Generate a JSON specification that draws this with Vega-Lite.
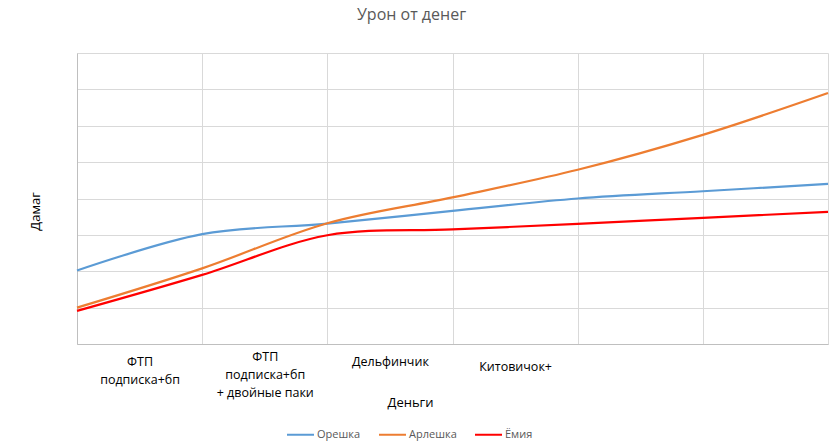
{
  "$schema": "https://vega.github.io/schema/vega-lite/v6.json",
  "autosize": "none",
  "width": 751,
  "height": 291,
  "padding": {"left": 77, "top": 53, "right": 4, "bottom": 97},
  "background": "white",
  "config": {
    "view": {"stroke": null},
    "font": "Open Sans"
  },
  "title": {
    "text": "Урон от денег",
    "fontSize": 16,
    "fontWeight": "normal",
    "color": "#595959",
    "font": "Open Sans",
    "anchor": "middle",
    "dx": -41,
    "offset": 30
  },
  "data": {
    "values": [
      {"x": 0, "series": "Орешка", "v": 2.02},
      {"x": 1, "series": "Орешка", "v": 3.02},
      {"x": 2, "series": "Орешка", "v": 3.31},
      {"x": 3, "series": "Орешка", "v": 3.66},
      {"x": 4, "series": "Орешка", "v": 4.0},
      {"x": 5, "series": "Орешка", "v": 4.2},
      {"x": 6, "series": "Орешка", "v": 4.4},
      {"x": 0, "series": "Арлешка", "v": 1.0},
      {"x": 1, "series": "Арлешка", "v": 2.08},
      {"x": 2, "series": "Арлешка", "v": 3.32},
      {"x": 3, "series": "Арлешка", "v": 4.03},
      {"x": 4, "series": "Арлешка", "v": 4.79},
      {"x": 5, "series": "Арлешка", "v": 5.75},
      {"x": 6, "series": "Арлешка", "v": 6.9},
      {"x": 0, "series": "Ёмия", "v": 0.91},
      {"x": 1, "series": "Ёмия", "v": 1.9},
      {"x": 2, "series": "Ёмия", "v": 2.99},
      {"x": 3, "series": "Ёмия", "v": 3.15},
      {"x": 4, "series": "Ёмия", "v": 3.3},
      {"x": 5, "series": "Ёмия", "v": 3.47},
      {"x": 6, "series": "Ёмия", "v": 3.63}
    ]
  },
  "mark": {"type": "line", "interpolate": "catmull-rom", "strokeWidth": 2.2},
  "encoding": {
    "x": {
      "field": "x",
      "type": "quantitative",
      "scale": {"domain": [0, 6], "nice": false, "zero": false},
      "axis": {
        "values": [0, 0.5, 1, 1.5, 2, 2.5, 3, 3.5, 4, 4.5, 5, 5.5, 6],
        "labelExpr": "datum.value == 0.5 ? ['ФТП', 'подписка+бп'] : datum.value == 1.5 ? ['ФТП', 'подписка+бп', '+ двойные паки'] : datum.value == 2.5 ? 'Дельфинчик' : datum.value == 3.5 ? 'Китовичок+' : ''",
        "labelFont": "Open Sans",
        "labelFontSize": 12.5,
        "labelColor": "#000000",
        "labelBaseline": "top",
        "labelLineHeight": 18,
        "labelPadding": {"condition": [{"test": "datum.value == 1.5", "value": 6}, {"test": "datum.value == 3.5", "value": 16}], "value": 11},
        "labelOverlap": false,
        "labelBound": false,
        "labelFlush": false,
        "ticks": false,
        "grid": true,
        "gridColor": "#D9D9D9",
        "gridWidth": 1,
        "gridOpacity": {"condition": {"test": "datum.value % 1 != 0", "value": 0}, "value": 1},
        "domainColor": "#BFBFBF",
        "domainWidth": 1,
        "title": "Деньги",
        "titleFont": "Open Sans",
        "titleFontSize": 13,
        "titleFontWeight": "normal",
        "titleColor": "#000000",
        "titleX": 333,
        "titleY": 52,
        "titleBaseline": "top"
      }
    },
    "y": {
      "field": "v",
      "type": "quantitative",
      "scale": {"domain": [0, 8], "nice": false},
      "axis": {
        "values": [0, 1, 2, 3, 4, 5, 6, 7, 8],
        "labels": false,
        "ticks": false,
        "grid": true,
        "gridColor": "#D9D9D9",
        "domainColor": "#BFBFBF",
        "title": "Дамаг",
        "titleFont": "Open Sans",
        "titleFontSize": 13,
        "titleFontWeight": "normal",
        "titleColor": "#000000",
        "titlePadding": 35,
        "titleY": 158
      }
    },
    "color": {
      "field": "series",
      "type": "nominal",
      "sort": ["Орешка", "Арлешка", "Ёмия"],
      "scale": {"domain": ["Орешка", "Арлешка", "Ёмия"], "range": ["#5B9BD5", "#ED7D31", "#FF0000"]},
      "legend": {
        "title": null,
        "orient": "none",
        "legendX": 209,
        "legendY": 367,
        "direction": "horizontal",
        "symbolType": "stroke",
        "symbolSize": 729,
        "symbolStrokeWidth": 2.5,
        "labelFont": "Open Sans",
        "labelFontSize": 11,
        "labelColor": "#595959",
        "labelOffset": 2,
        "columnPadding": 14
      }
    },
    "strokeWidth": {
      "field": "series",
      "type": "nominal",
      "scale": {"domain": ["Орешка", "Арлешка", "Ёмия"], "range": [2, 2, 2.6]},
      "legend": null
    }
  }
}
